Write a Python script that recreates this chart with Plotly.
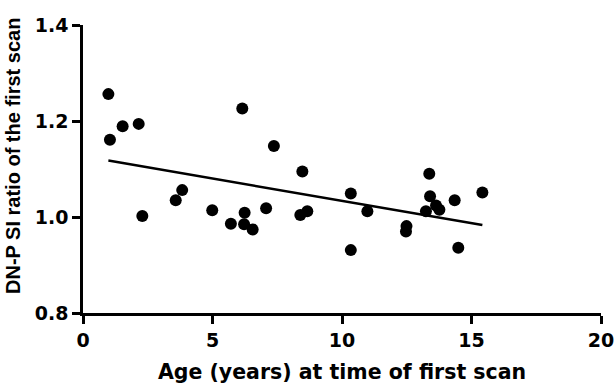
import numpy as np
import plotly.graph_objects as go

age = [0.98, 1.04, 1.53, 2.15, 2.29, 3.58, 3.83, 4.99, 5.71, 6.15, 6.24, 6.22, 6.55,
       7.07, 7.37, 8.39, 8.47, 8.66, 10.34, 10.34, 10.98, 12.49, 12.47, 13.24, 13.37,
       13.4, 13.63, 13.76, 14.35, 14.49, 15.42]
ratio = [1.256, 1.161, 1.189, 1.194, 1.002, 1.035, 1.056, 1.014, 0.986, 1.226, 1.009, 0.985, 0.974,
         1.018, 1.148, 1.004, 1.095, 1.012, 1.049, 0.931, 1.012, 0.981, 0.970, 1.012, 1.090,
         1.043, 1.024, 1.015, 1.035, 0.936, 1.051]

x_ticks = [0, 5, 10, 15, 20]
y_ticks = [0.8, 1.0, 1.2, 1.4]
y_tick_labels = ["0.8", "1.0", "1.2", "1.4"]
x_title = "Age (years) at time of first scan"
y_title = "DN-P SI ratio of the first scan"

slope, intercept = np.polyfit(age, ratio, 1)
fit_x = np.array([min(age), max(age)])
fit_y = intercept + slope * fit_x

wide = dict(family="DejaVu Sans, Verdana, sans-serif", color="black", weight="bold")
arial = dict(family="Arial, Liberation Sans, sans-serif", color="black", weight="bold")

fig = go.Figure()
fig.add_trace(go.Scatter(x=fit_x, y=fit_y, mode="lines",
                         line=dict(color="black", width=2.5), showlegend=False, hoverinfo="skip"))
fig.add_trace(go.Scatter(x=age, y=ratio, mode="markers",
                         marker=dict(color="black", size=12, line=dict(width=0)),
                         showlegend=False, cliponaxis=False))

fig.update_layout(
    width=615, height=385,
    margin=dict(l=83, r=14, t=25, b=72),
    paper_bgcolor="white", plot_bgcolor="white",
    font=dict(size=19, **wide),
)
fig.update_xaxes(range=[0, 20], tickvals=x_ticks, showgrid=False, zeroline=False, automargin=False,
                 showline=True, linecolor="black", linewidth=2.5,
                 ticks="outside", ticklen=8, tickwidth=2.5, tickcolor="black",
                 tickfont=dict(size=19, **wide),
                 title=dict(text=x_title, font=dict(size=20.5, **wide), standoff=16))
fig.update_yaxes(range=[0.8, 1.4], tickvals=y_ticks, ticktext=y_tick_labels, showgrid=False, zeroline=False,
                 automargin=False,
                 showline=True, linecolor="black", linewidth=2.5,
                 ticks="outside", ticklen=8, tickwidth=2.5, tickcolor="black",
                 tickfont=dict(size=19, **wide))
fig.add_annotation(text=y_title, textangle=-90, showarrow=False,
                   xref="paper", yref="paper", x=(13 - 83) / 518, y=(313 - 156) / 288,
                   xanchor="center", yanchor="middle", font=dict(size=20, **arial))

fig.write_html("out.html")
